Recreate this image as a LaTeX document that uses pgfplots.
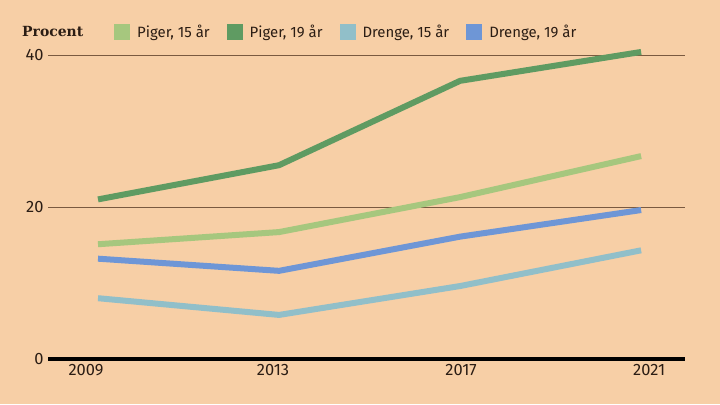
\documentclass[border=0pt]{standalone}
\usepackage{pgfplots}
\pgfplotsset{compat=1.18}
\usepackage{fontspec}
\setmainfont{Fira Sans}
\newfontfamily\slab{DejaVu Serif}
\definecolor{bg}{HTML}{F7CFA6}
\definecolor{pg15}{HTML}{A6C77E}
\definecolor{pg19}{HTML}{5F9B62}
\definecolor{dr15}{HTML}{91BFC9}
\definecolor{dr19}{HTML}{6E96D6}
\definecolor{gridc}{HTML}{7A5A40}
\definecolor{txt}{HTML}{2B1D14}
\begin{document}
\begin{tikzpicture}[x=1bp,y=1bp]
\fill[bg] (0,0) rectangle (720,404);
\node[anchor=west, font=\slab\bfseries\fontsize{14}{16}\selectfont, text=txt, inner sep=0] at (22,372) {Procent};
\begin{axis}[
  at={(48bp,45bp)}, anchor=south west,
  scale only axis, width=637bp, height=304bp,
  xmin=2007.895, xmax=2021.97, ymin=0, ymax=40,
  clip=false,
  axis line style={draw=none}, tick style={draw=none},
  ytick={0,20,40},
  xtick={2008.735,2012.867,2017.022,2021.177},
  xticklabels={2009,2013,2017,2021},
  ymajorgrids, grid style={gridc, line width=0.8bp},
  /pgf/number format/assume math mode=true,
  tick label style={font=\fontsize{16.5}{20}\selectfont, text=txt},
  yticklabel style={anchor=east, xshift=-1bp},
  xticklabel style={yshift=-2bp},
  legend columns=4,
  legend style={at={(0.1036,1.0757)}, anchor=west, draw=none, fill=none,
    font=\fontsize{15}{18}\selectfont, text=txt, inner sep=0pt,
    /tikz/every even column/.append style={column sep=15bp}},
  legend image code/.code={\fill[#1, draw=none] (0bp,-8bp) rectangle (16bp,8bp); \path[draw=none, fill=none] (0bp,0bp) -- (21bp,0bp);},
  every axis plot/.append style={line width=6bp, line join=round},
]
\addplot[pg15] coordinates {(2009,15.1) (2013,16.7) (2017,21.3) (2021,26.7)};
\addlegendentry{Piger, 15 år}
\addplot[pg19] coordinates {(2009,21.0) (2013,25.5) (2017,36.6) (2021,40.4)};
\addlegendentry{Piger, 19 år}
\addplot[dr15] coordinates {(2009,8.0) (2013,5.8) (2017,9.6) (2021,14.3)};
\addlegendentry{Drenge, 15 år}
\addplot[dr19] coordinates {(2009,13.2) (2013,11.6) (2017,16.1) (2021,19.6)};
\addlegendentry{Drenge, 19 år}
\draw[black, line width=4.5bp] (axis cs:2007.895,0) -- (axis cs:2021.97,0);
\end{axis}
\end{tikzpicture}
\end{document}
